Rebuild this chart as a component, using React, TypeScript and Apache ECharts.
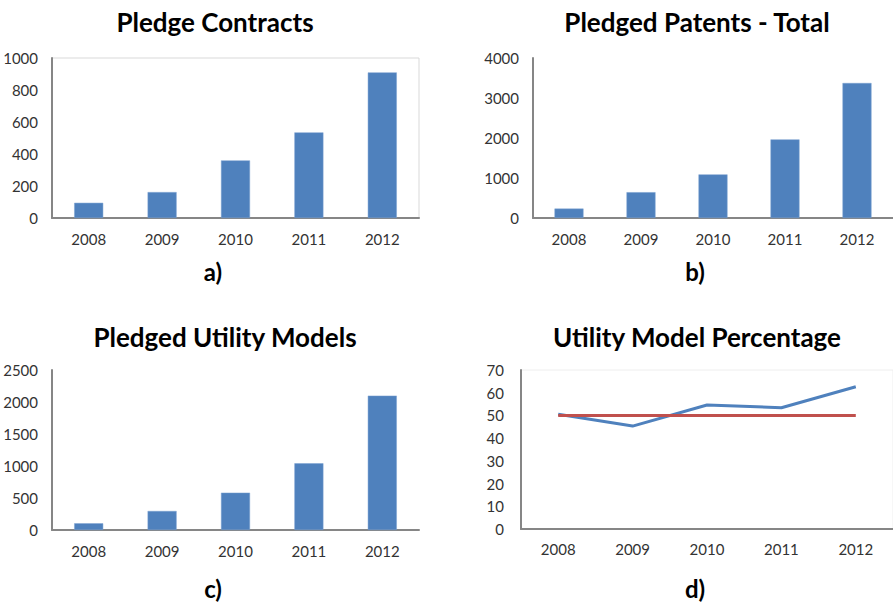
import React, { useEffect, useRef } from "react";
import * as echarts from "echarts";

const years = ["2008", "2009", "2010", "2011", "2012"];
const pledgeContracts = [95, 162, 360, 535, 910];
const pledgedPatentsTotal = [236, 645, 1090, 1965, 3375];
const pledgedUtilityModels = [105, 297, 583, 1042, 2099];
const utilityModelPct = [50.5, 45.3, 54.6, 53.4, 62.6];
const referenceLine = [50, 50, 50, 50, 50];

const titles = [
  { text: "Pledge Contracts", x: 215, y: 22 },
  { text: "Pledged Patents - Total", x: 697, y: 22 },
  { text: "Pledged Utility Models", x: 225, y: 337 },
  { text: "Utility Model Percentage", x: 697, y: 337 },
];
const panelLabels = [
  { text: "a)", x: 213, y: 271 },
  { text: "b)", x: 695, y: 271 },
  { text: "c)", x: 213, y: 588 },
  { text: "d)", x: 695, y: 588 },
];

const FONT = "Lato, 'Open Sans', sans-serif";
const BLUE = "#4F81BD";
const RED = "#C0504D";
const AXIS = "#868686";
const LABEL = "#333333";

export default function App() {
  const ref = useRef<HTMLDivElement>(null);
  useEffect(() => {
    if (!ref.current) return;
    const chart = echarts.init(ref.current, undefined, { renderer: "svg" });
    const grids = [
      { left: 52, top: 58, width: 367, height: 160, show: true, borderColor: "#d9d9d9", borderWidth: 1 },
      { left: 533, top: 58, width: 367, height: 160, show: false },
      { left: 52, top: 370, width: 367, height: 160, show: false },
      { left: 521, top: 370, width: 379, height: 159, show: true, borderColor: "#eeeeee", borderWidth: 1 },
    ];
    const yDefs = [
      { max: 1000, interval: 200 },
      { max: 4000, interval: 1000 },
      { max: 2500, interval: 500 },
      { max: 70, interval: 10 },
    ];
    const xAxis = grids.map((_, i) => ({
      type: "category",
      gridIndex: i,
      data: years,
      boundaryGap: true,
      axisLine: { show: true, lineStyle: { color: AXIS, width: 2 } },
      axisTick: { show: false },
      axisLabel: { color: LABEL, fontFamily: FONT, fontSize: 15, margin: i === 3 ? 12 : 13 },
    }));
    const yAxis = yDefs.map((d, i) => ({
      type: "value",
      gridIndex: i,
      min: 0,
      max: d.max,
      interval: d.interval,
      axisLine: { show: true, lineStyle: { color: AXIS, width: 2 } },
      axisTick: { show: false },
      splitLine: { show: false },
      axisLabel: {
        color: LABEL, fontFamily: FONT, fontSize: 15, margin: i === 3 ? 17 : 14,
        formatter: (v: number) => String(v),
      },
    }));
    const barStyle = { color: BLUE, borderColor: "#7aa0d0", borderWidth: 0.5 };
    const series = [
      { type: "bar", xAxisIndex: 0, yAxisIndex: 0, data: pledgeContracts, barWidth: 29, itemStyle: barStyle },
      { type: "bar", xAxisIndex: 1, yAxisIndex: 1, data: pledgedPatentsTotal, barWidth: 29, itemStyle: barStyle },
      { type: "bar", xAxisIndex: 2, yAxisIndex: 2, data: pledgedUtilityModels, barWidth: 29, itemStyle: barStyle },
      {
        type: "line", xAxisIndex: 3, yAxisIndex: 3, data: referenceLine, showSymbol: false, symbol: "none",
        lineStyle: { color: RED, width: 3 }, z: 3,
      },
      {
        type: "line", xAxisIndex: 3, yAxisIndex: 3, data: utilityModelPct, showSymbol: false, symbol: "none",
        lineStyle: { color: BLUE, width: 3 }, z: 2,
      },
    ];
    const graphic = [
      ...titles.map((t) => ({
        type: "text", x: t.x, y: t.y,
        style: { text: t.text, fontFamily: FONT, fontWeight: "bold", fontSize: 26, fill: "#000", textAlign: "center", textVerticalAlign: "middle" },
      })),
      ...panelLabels.map((t) => ({
        type: "text", x: t.x, y: t.y,
        style: { text: t.text, fontFamily: FONT, fontWeight: "bold", fontSize: 24, fill: "#000", textAlign: "center", textVerticalAlign: "middle" },
      })),
    ];
    chart.setOption({
      animation: false,
      backgroundColor: "#ffffff",
      grid: grids,
      xAxis,
      yAxis,
      series,
      graphic,
    });
    return () => chart.dispose();
  }, []);
  return <div ref={ref} style={{ position: "absolute", left: 0, top: 0, width: 893, height: 604 }} />;
}
